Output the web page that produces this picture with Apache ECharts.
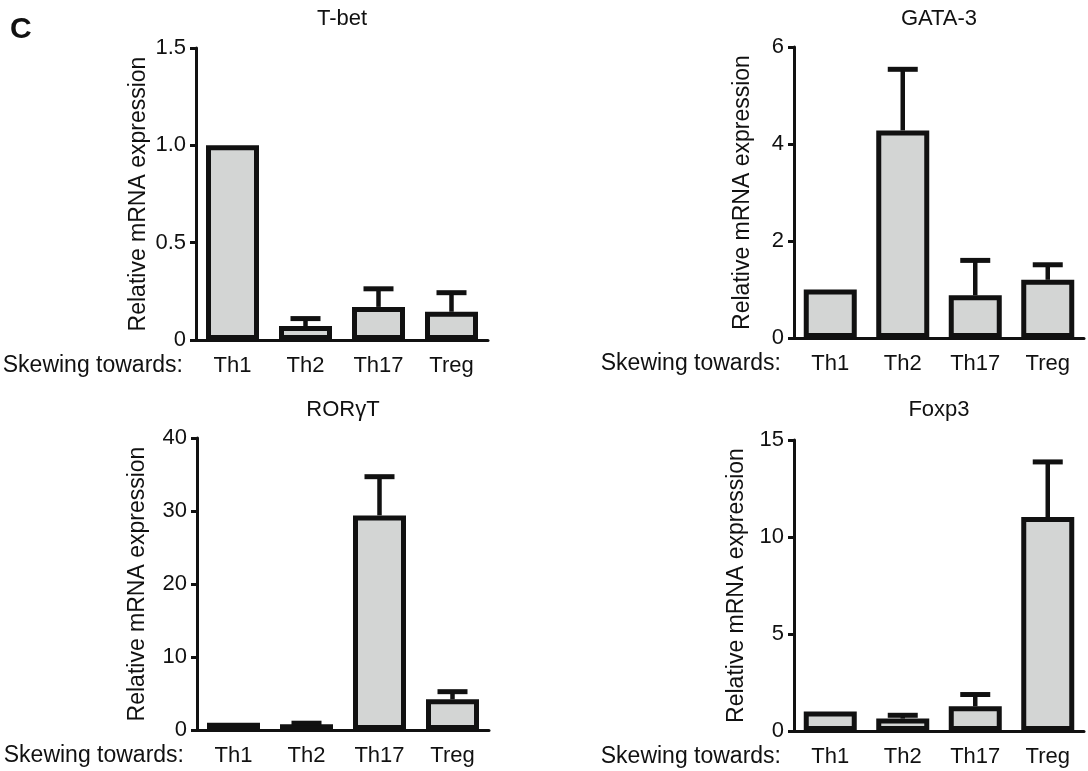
<!DOCTYPE html>
<html>
<head>
<meta charset="utf-8">
<script src="https://cdn.jsdelivr.net/npm/echarts@6/dist/echarts.min.js"></script>
<style>
html,body{margin:0;padding:0;background:#fff;}
#chart{width:1088px;height:771px;}
</style>
</head>
<body>
<div id="chart"></div>
<script>
// ---- data ----
const categories = ['Th1', 'Th2', 'Th17', 'Treg'];
const panelTitles = ['T-bet', 'GATA-3', 'ROR\u03B3T', 'Foxp3'];

const tbetMean = [1.0, 0.072, 0.17, 0.145];
const tbetErr  = [0, 0.038, 0.093, 0.098];

const gata3Mean = [1.0, 4.28, 0.88, 1.20];
const gata3Err  = [0, 1.26, 0.72, 0.31];

const rorgtMean = [1.0, 0.78, 29.4, 4.2];
const rorgtErr  = [0, 0.15, 5.3, 1.05];

const foxp3Mean = [1.0, 0.64, 1.27, 11.03];
const foxp3Err  = [0, 0.17, 0.61, 2.84];

const yMax = [1.5, 6, 40, 15];
const yInterval = [0.5, 2, 10, 5];
const yTickDecimals = [1, 0, 0, 0];

const yAxisName = 'Relative mRNA expression';
const xAxisName = 'Skewing towards:';
const panelLetter = 'C';

// ---- layout / style ----
const FONT = '"Liberation Sans", Arial, Helvetica, sans-serif';
const INK = '#111111';
const FILL = '#d3d5d4';
const grids = [
  {left: 196, top: 48, width: 292, height: 292},
  {left: 794, top: 47, width: 290, height: 291},
  {left: 197, top: 438, width: 292, height: 292},
  {left: 794, top: 440, width: 290, height: 291}
];
const nameGaps = [46, 40, 48, 46];
const means = [tbetMean, gata3Mean, rorgtMean, foxp3Mean];
const errs = [tbetErr, gata3Err, rorgtErr, foxp3Err];

const titles = panelTitles.map((t, i) => ({
  text: t,
  left: grids[i].left + grids[i].width / 2,
  top: (i < 2 ? 7 : 398),
  padding: 0,
  textAlign: 'center',
  textStyle: {fontFamily: FONT, fontSize: 22, fontWeight: 'normal', color: INK, lineHeight: 24}
}));
titles.push({
  text: panelLetter, left: 10, top: 14, padding: 0,
  textStyle: {fontFamily: FONT, fontSize: 30, fontWeight: 'bold', color: INK, lineHeight: 32}
});

const xAxes = grids.map((g, i) => ({
  type: 'category', gridIndex: i, data: categories,
  axisLine: {lineStyle: {color: INK, width: 3}},
  axisTick: {alignWithLabel: true, length: 8, lineStyle: {color: INK, width: 3}},
  axisLabel: {fontFamily: FONT, fontSize: 22, color: INK, margin: 15}
}));

const yAxes = grids.map((g, i) => ({
  type: 'value', gridIndex: i, min: 0, max: yMax[i], interval: yInterval[i],
  name: yAxisName, nameLocation: 'middle', nameGap: nameGaps[i],
  nameTextStyle: {fontFamily: FONT, fontSize: 23, color: INK},
  axisLine: {show: true, lineStyle: {color: INK, width: 3}},
  axisTick: {show: true, length: 6, lineStyle: {color: INK, width: 3}},
  splitLine: {show: false},
  axisLabel: {
    fontFamily: FONT, fontSize: 22, color: INK, margin: 10,
    formatter: v => (v === 0 ? '0' : v.toFixed(yTickDecimals[i]))
  }
}));

const graphics = grids.map(g => ({
  type: 'text',
  x: g.left - 13,
  y: g.top + g.height + 26,
  style: {
    text: xAxisName, fontFamily: FONT, fontSize: 23, fill: INK,
    textAlign: 'right', textVerticalAlign: 'middle'
  }
}));

const series = [];
means.forEach((m, i) => {
  series.push({
    type: 'bar', xAxisIndex: i, yAxisIndex: i, data: m,
    barWidth: 53,
    itemStyle: {color: FILL, borderColor: INK, borderWidth: 5},
    silent: true, z: 2
  });
  series.push({
    type: 'custom', xAxisIndex: i, yAxisIndex: i,
    data: m.map((v, k) => [k, v, v + errs[i][k], errs[i][k]]),
    z: 3, silent: true,
    renderItem: function (params, api) {
      if (api.value(3) <= 0) return null;
      const base = api.coord([api.value(0), api.value(1)]);
      const top = api.coord([api.value(0), api.value(2)]);
      const half = 15;
      return {
        type: 'group',
        children: [
          {type: 'line', shape: {x1: base[0], y1: base[1], x2: top[0], y2: top[1]},
           style: {stroke: INK, lineWidth: 4.5}},
          {type: 'line', shape: {x1: top[0] - half, y1: top[1], x2: top[0] + half, y2: top[1]},
           style: {stroke: INK, lineWidth: 5}}
        ]
      };
    }
  });
});

const chart = echarts.init(document.getElementById('chart'), null, {renderer: 'canvas'});
chart.setOption({
  backgroundColor: '#ffffff',
  animation: false,
  title: titles,
  grid: grids,
  xAxis: xAxes,
  yAxis: yAxes,
  graphic: graphics,
  series: series
});
</script>
</body>
</html>
